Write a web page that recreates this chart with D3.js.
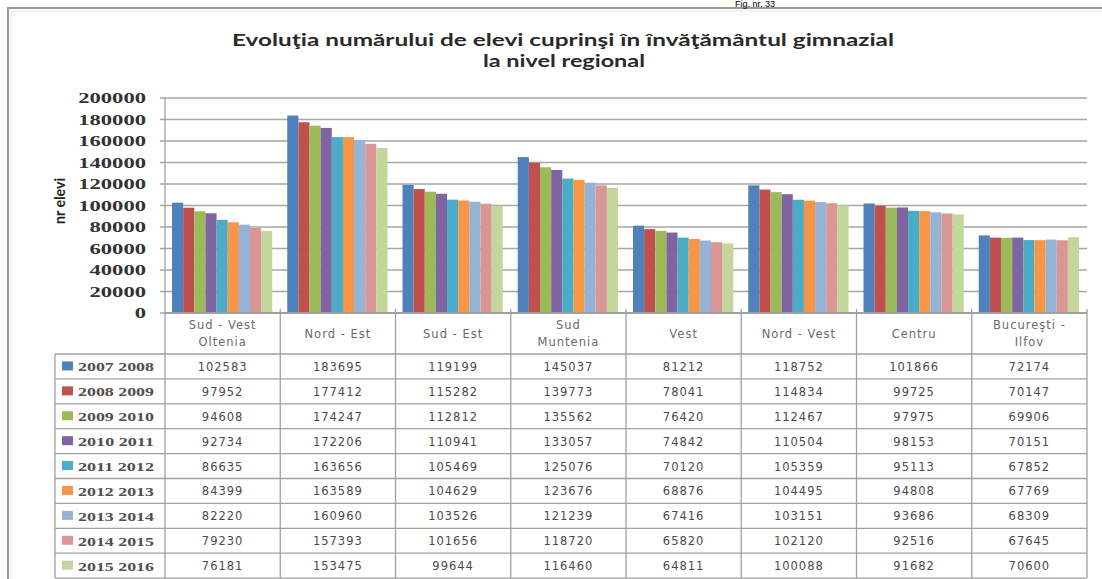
<!DOCTYPE html>
<html><head><meta charset="utf-8">
<script src="https://cdn.jsdelivr.net/npm/d3@7"></script>
<style>
html,body{margin:0;padding:0;background:#fff;}
svg{display:block;}
</style></head>
<body>
<svg id="c" width="1102" height="579"></svg>
<script>
const categories = ["Sud - Vest|Oltenia","Nord - Est","Sud - Est","Sud|Muntenia","Vest","Nord - Vest","Centru","Bucureşti -|Ilfov"];
const seriesNames = ["2007 2008","2008 2009","2009 2010","2010 2011","2011 2012","2012 2013","2013 2014","2014 2015","2015 2016"];
const s2007 = [102583,183695,119199,145037,81212,118752,101866,72174];
const s2008 = [97952,177412,115282,139773,78041,114834,99725,70147];
const s2009 = [94608,174247,112812,135562,76420,112467,97975,69906];
const s2010 = [92734,172206,110941,133057,74842,110504,98153,70151];
const s2011 = [86635,163656,105469,125076,70120,105359,95113,67852];
const s2012 = [84399,163589,104629,123676,68876,104495,94808,67769];
const s2013 = [82220,160960,103526,121239,67416,103151,93686,68309];
const s2014 = [79230,157393,101656,118720,65820,102120,92516,67645];
const s2015 = [76181,153475,99644,116460,64811,100088,91682,70600];
const yTicks = [0,20000,40000,60000,80000,100000,120000,140000,160000,180000,200000];
const colors = ["#4F81BD","#C0504D","#9BBB59","#8064A2","#4BACC6","#F79646","#95B3D7","#D99694","#C3D69B"];

const series = [s2007,s2008,s2009,s2010,s2011,s2012,s2013,s2014,s2015];
const svg = d3.select("#c");

// frame
svg.append("path").attr("d","M8,579 V8 H1102").attr("fill","none").attr("stroke","#999").attr("stroke-width",2);
svg.append("path").attr("d","M11,579 V11 H1102").attr("fill","none").attr("stroke","#e6e6e6").attr("stroke-width",1);

// caption at top (cut in the reference; kept fully visible here)
svg.append("text").attr("x",755).attr("y",7).attr("text-anchor","middle")
  .attr("font-family","Liberation Sans, Arial").attr("font-size",9).attr("fill","#000").text("Fig. nr. 33");

// title
const title = svg.append("g").attr("font-family","Lato, 'Open Sans', sans-serif").attr("font-weight","bold").attr("fill","#2a2a2a");
title.append("text").attr("x",563).attr("y",46).attr("text-anchor","middle").attr("font-size",17)
  .attr("textLength",662).attr("lengthAdjust","spacingAndGlyphs")
  .text("Evoluţia numărului de elevi cuprinşi în învăţământul gimnazial");
title.append("text").attr("x",564).attr("y",67).attr("text-anchor","middle").attr("font-size",17)
  .attr("textLength",162).attr("lengthAdjust","spacingAndGlyphs")
  .text("la nivel regional");

const L = 165, R = 1087, T = 98, B = 313;
const y = d3.scaleLinear().domain([0,200000]).range([B,T]);
const x0 = d3.scaleBand().domain(categories).range([L,R]).padding(0);
const x1 = d3.scaleBand().domain(seriesNames).range([7, x0.bandwidth()-8]).padding(0);

// gridlines
svg.append("g").selectAll("line").data(yTicks).join("line")
  .attr("x1",L-5).attr("x2",R).attr("y1",d=>y(d)).attr("y2",d=>y(d))
  .attr("stroke","#a6a6a6").attr("stroke-width",1.6);

// y labels
svg.append("g").selectAll("text").data(yTicks).join("text")
  .attr("x",146).attr("y",d=>y(d)+5).attr("text-anchor","end")
  .attr("font-family","Liberation Serif, serif").attr("font-weight","bold").attr("font-size",14).attr("fill","#333")
  .attr("textLength",d=>String(d).length*11.3).attr("lengthAdjust","spacingAndGlyphs")
  .text(d=>d);

// y axis title
svg.append("text").attr("transform","translate(65,201) rotate(-90)").attr("text-anchor","middle")
  .attr("font-family","Lato, sans-serif").attr("font-weight","bold").attr("font-size",15).attr("fill","#222")
  .attr("textLength",46).attr("lengthAdjust","spacingAndGlyphs").text("nr elevi");

// bars
const gBars = svg.append("g");
categories.forEach((c,ci)=>{
  series.forEach((s,si)=>{
    gBars.append("rect")
      .attr("x",x0(c)+x1(seriesNames[si]))
      .attr("y",y(s[ci]))
      .attr("width",x1.bandwidth())
      .attr("height",B-y(s[ci]))
      .attr("fill",colors[si]);
  });
});

// table
const rowTop = 354, rowH = 24.9, legL = 55;
const nRows = seriesNames.length;
const tableBottom = rowTop + nRows*rowH;
const grid = svg.append("g").attr("stroke","#a0a0a0").attr("stroke-width",1.3);
grid.append("line").attr("x1",L).attr("x2",R).attr("y1",B).attr("y2",B).attr("stroke-width",1.8);
grid.append("line").attr("x1",L).attr("x2",L).attr("y1",T).attr("y2",tableBottom);
categories.forEach(c=>{
  const xe = x0(c)+x0.bandwidth();
  grid.append("line").attr("x1",xe).attr("x2",xe).attr("y1",B-4).attr("y2",tableBottom);
});
grid.append("line").attr("x1",legL).attr("x2",legL).attr("y1",rowTop).attr("y2",tableBottom);
d3.range(nRows+1).forEach(i=>{
  grid.append("line").attr("x1",legL).attr("x2",R).attr("y1",rowTop+i*rowH).attr("y2",rowTop+i*rowH);
});

// category labels
const catG = svg.append("g").attr("font-family","DejaVu Sans, sans-serif").attr("font-size",11.5).attr("fill","#6a6a6a").attr("letter-spacing",1);
categories.forEach(c=>{
  const parts = c.split("|");
  const cx = x0(c)+x0.bandwidth()/2;
  const t = catG.append("text").attr("text-anchor","middle");
  if(parts.length===1){
    t.append("tspan").attr("x",cx).attr("y",338).text(parts[0]);
  } else {
    t.append("tspan").attr("x",cx).attr("y",329).text(parts[0]);
    t.append("tspan").attr("x",cx).attr("y",346).text(parts[1]);
  }
});

// values
const valG = svg.append("g").attr("font-family","DejaVu Sans, sans-serif").attr("font-size",11.5).attr("fill","#4a4a4a").attr("letter-spacing",1);
series.forEach((s,si)=>{
  categories.forEach((c,ci)=>{
    valG.append("text").attr("x",x0(c)+x0.bandwidth()/2).attr("y",rowTop+si*rowH+rowH/2+4.5)
      .attr("text-anchor","middle").text(s[ci]);
  });
});

// legend keys
const legG = svg.append("g");
seriesNames.forEach((n,i)=>{
  const cy = rowTop+i*rowH+rowH/2;
  legG.append("rect").attr("x",62).attr("y",cy-5).attr("width",11).attr("height",9).attr("fill",colors[i]);
  legG.append("text").attr("x",78).attr("y",cy+5).attr("font-family","Liberation Serif, serif").attr("font-weight","bold")
    .attr("font-size",13.5).attr("fill","#505050").attr("textLength",76).attr("lengthAdjust","spacingAndGlyphs").text(n);
});
</script>
</body></html>
